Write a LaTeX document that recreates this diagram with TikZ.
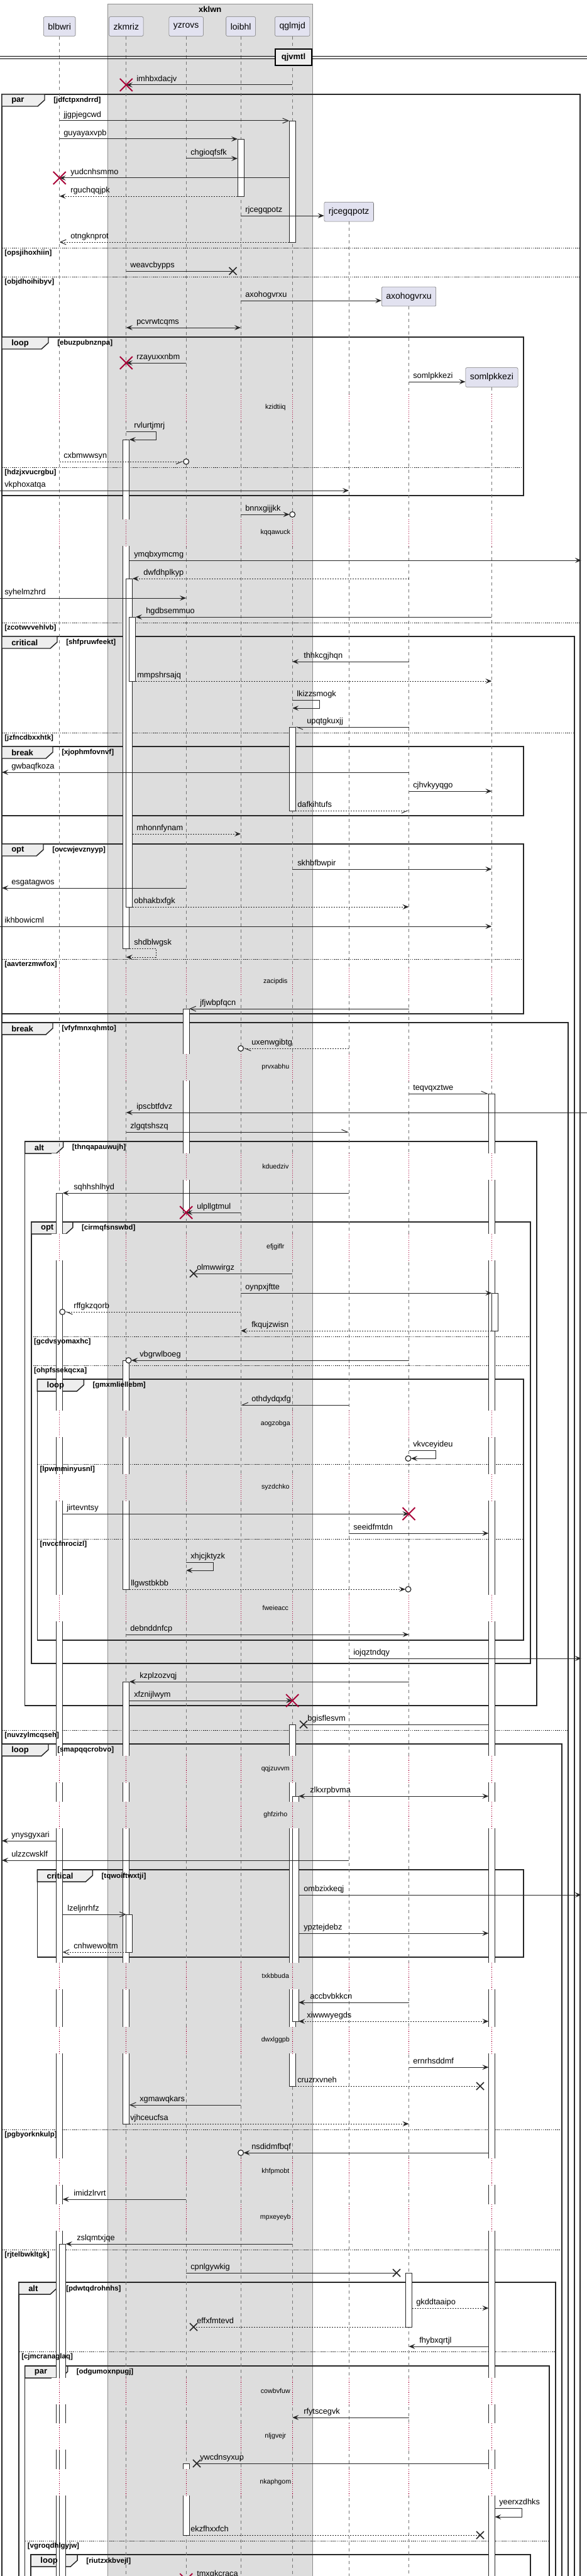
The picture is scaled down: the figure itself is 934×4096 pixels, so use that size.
\documentclass[tikz,border=0pt]{standalone}
\usepackage{fontspec}
\setmainfont{Liberation Sans}
\usetikzlibrary{arrows.meta}
\definecolor{boxgray}{HTML}{DDDDDD}
\definecolor{partfill}{HTML}{E2E2F0}
\definecolor{tabfill}{HTML}{EEEEEE}
\definecolor{crim}{HTML}{A80036}
\newcommand\fmsg{\fontsize{9.6pt}{11pt}\selectfont}
\newcommand\fdel{\fontsize{8pt}{9pt}\selectfont}
\newcommand\fgrd{\fontsize{8.6pt}{10pt}\selectfont\bfseries}
\newcommand\ftab{\fontsize{9.75pt}{11pt}\selectfont\bfseries}
\newcommand\fpart{\fontsize{10.5pt}{12pt}\selectfont}
\tikzset{
  lifel/.style={draw=black!55, line width=0.6pt, dash pattern=on 3.75pt off 3.75pt},
  reddot/.style={draw=crim, line width=0.6pt, dash pattern=on 0.8pt off 1.6pt},
  actb/.style={fill=white, draw=black!85, line width=0.6pt},
  frm/.style={draw=black!85, line width=1.1pt},
  sepl/.style={draw=black!85, line width=0.6pt, dash pattern=on 1.2pt off 1.2pt},
  msgl/.style={draw=black!85, line width=0.75pt},
  mlbl/.style={anchor=base west, inner sep=0pt, yshift=4pt, font=\fmsg},
  part/.style={draw=black!55, fill=partfill, rounded corners=1.5pt, minimum height=23pt, inner xsep=5.25pt, font=\fpart},
  fa/.style={-{Stealth[length=7.5pt,width=6pt,inset=3pt]}},
  ba/.style={{Stealth[length=7.5pt,width=6pt,inset=3pt]}-{Stealth[length=7.5pt,width=6pt,inset=3pt]}},
  oa/.style={-{Straight Barb[length=7pt,width=6pt]}},
  hl/.style={-{Straight Barb[left,length=7pt,width=6pt]}},
  hr/.style={-{Straight Barb[right,length=7pt,width=6pt]}},
  dsh/.style={dash pattern=on 1.5pt off 1.5pt},
}
\newcommand\msgA[6]{\draw[msgl,#1] (#2,#4) -- (#3,#4); \node[mlbl] at (#5,#4) {#6};}
\newcommand\selfm[8]{\draw[msgl,#1] (#2,#4) -- (#3,#4) -- (#3,#5) -- (#6,#5); \node[mlbl] at (#7,#4) {#8};}
\newcommand\redx[2]{\draw[crim, line width=1.4pt] ({#1-10},{#2-10}) -- ({#1+10},{#2+10}) ({#1-10},{#2+10}) -- ({#1+10},{#2-10});}
\newcommand\blkx[2]{\draw[black!85, line width=1.2pt] ({#1-6},{#2-6}) -- ({#1+6},{#2+6}) ({#1-6},{#2+6}) -- ({#1+6},{#2-6});}
\newcommand\circg[2]{\draw[black!85, line width=0.9pt, fill=white] (#1,#2) circle (3.3pt);}
\newcommand\actg[4]{\draw[actb] (#1,#2) rectangle (#3,#4);}
% frame shapes (first pass) and frame texts (second pass)
\newcommand\frameshape[7]{%
  \draw[frm] (#1,#2) rectangle (#3,#4);
  \draw[frm, fill=tabfill] (#1,#2) -- ({#1+#6},#2) -- ({#1+#6},{#2+9}) -- ({#1+#6-11},{#2+19}) -- (#1,{#2+19}) -- cycle;}
\newcommand\framelabel[7]{%
  \node[anchor=west, font=\ftab, inner sep=0pt] at ({#1+15},{#2+10}) {#5};
  \node[anchor=west, font=\fgrd, inner sep=0pt] at ({#1+#6+14},{#2+10}) {[#7]};}
\newcommand\sepshape[4]{\draw[sepl] (#1,#3) -- (#2,#3);}
\newcommand\seplabel[4]{\node[anchor=north west, font=\fgrd, inner sep=0pt] at ({#1+4},{#3+3}) {[#4]};}
\newcommand\allframes{%
\FRM{3}{150}{923}{4200}{par}{68}{jdfctpxndrrd}
\SEPG{3}{923}{394}{opsjihoxhiin}
\SEPG{3}{923}{440}{objdhoihibyv}
\SEPG{3}{923}{990}{zcotwvvehlvb}
\FRM{3}{536}{833}{788}{loop}{74}{ebuzpubnznpa}
\SEPG{3}{833}{743}{hdzjxvucrgbu}
\FRM{3}{1012}{914}{4200}{critical}{88}{shfpruwfeekt}
\SEPG{3}{914}{1165}{jzfncdbxxhtk}
\FRM{3}{1187}{833}{1297}{break}{81}{xjophmfovnvf}
\FRM{3}{1342}{833}{1612}{opt}{66}{ovcwjevznyyp}
\SEPG{3}{833}{1525}{aavterzmwfox}
\FRM{3}{1626}{904}{4200}{break}{81}{vfyfmnxqhmto}
\SEPG{3}{904}{2751}{nuvzylmcqseh}
\FRM{39.6}{1815}{854}{2712}{alt}{61}{thnqapauwujh}
\FRM{49.8}{1943}{844}{2645}{opt}{66}{cirmqfsnswbd}
\SEPG{49.8}{844}{2125}{gcdvsyomaxhc}
\SEPG{49.8}{844}{2171}{ohpfssekqcxa}
\FRM{59.4}{2193}{833}{2608}{loop}{74}{gmxmliellebm}
\SEPG{59.4}{833}{2328}{lpwmminyusnl}
\SEPG{59.4}{833}{2447}{nvccfnrocizl}
\FRM{3}{2773}{894}{4200}{loop}{74}{smapqqcrobvo}
\SEPG{3}{894}{3386}{pgbyorknkulp}
\SEPG{3}{894}{3577}{rjtelbwkltgk}
\FRM{59.4}{2973}{833}{3112}{critical}{88}{tqwoiftwxtji}
\FRM{30}{3629}{884}{4200}{alt}{61}{pdwtqdrohnhs}
\SEPG{30}{884}{3739}{cjmcranaglaq}
\FRM{39.6}{3762}{874}{4200}{par}{68}{odgumoxnpugj}
\SEPG{39.6}{874}{4040}{vgroqdhlgyjw}
\FRM{49.2}{4062}{844}{4200}{loop}{74}{riutzxkbvejl}
}
\newcommand\delayg[3]{%
  \foreach \xx/\cc in {94.7/white,200.8/boxgray,296.2/boxgray,383.1/boxgray,465.2/boxgray,555.2/white,650.5/white,782.4/white}{%
    \fill[\cc] ({\xx-13},#1) rectangle ({\xx+13},#2);
    \draw[reddot] (\xx,#1) -- (\xx,#2);
  }%
  \node[font=\fdel, inner sep=0pt] at (438.3,{(#1+#2)/2}) {#3};}
\begin{document}
\begin{tikzpicture}[x=0.75pt,y=-0.75pt]
\useasboundingbox (0,0) rectangle (934,4096);
\clip (0,0) rectangle (934,4096);
\fill[white] (0,0) rectangle (934,4096);
% box
\draw[draw=black!45, fill=boxgray] (171,6) rectangle (497.6,4200);
\node[font=\ftab, inner sep=0pt] (boxt) at (334.3,15) {xklwn};
% frames: shapes
\let\FRM\frameshape \let\SEPG\sepshape \allframes
% participants
\node[part] (p1) at (94.7,42) {blbwri};
\node[part] (p2) at (200.8,42) {zkmriz};
\node[part] (p3) at (296.2,42) {yzrovs};
\node[part] (p4) at (383.1,42) {loibhl};
\node[part] (p5) at (465.2,42) {qglmjd};
\node[part] (p6) at (555.2,336.7) {rjcegqpotz};
\node[part] (p7) at (650.5,471.5) {axohogvrxu};
\node[part] (p8) at (782.4,600) {somlpkkezi};
\foreach \pp in {p1,p2,p3,p4,p5,p6,p7,p8} \draw[lifel] (\pp.south) -- (\pp.south |- 0,4200);
% activations
\actg{460.2}{192}{470.2}{385}
\actg{378.1}{221}{388.1}{312}
\actg{195.8}{699}{205.8}{1508}
\actg{200.8}{920}{210.8}{1442}
\actg{205.8}{981}{215.8}{1083}
\actg{460.2}{1156}{470.2}{1289}
\actg{291.2}{1604}{301.2}{1928}
\actg{777.4}{1739}{787.4}{4200}
\actg{89.7}{1897}{99.7}{4200}
\actg{782.4}{2056}{792.4}{2116}
\actg{195.8}{2163}{205.8}{2527}
\actg{195.8}{2674}{205.8}{3377}
\actg{200.8}{3044}{210.8}{3104}
\actg{460.2}{2742}{470.2}{3317}
\actg{465.2}{2856}{475.2}{3214}
\actg{94.7}{3568}{104.7}{4200}
\actg{645.5}{3614}{655.5}{3700}
\actg{291.2}{3917}{301.2}{4031}
% delays
\delayg{627}{669}{kzidtiiq}
\delayg{826}{868}{kqqawuck}
\delayg{1539}{1583}{zacipdis}
\delayg{1676}{1718}{prvxabhu}
\delayg{1834}{1876}{kduedziv}
\delayg{1962}{2004}{efjgiflr}
\delayg{2243}{2285}{aogzobga}
\delayg{2344}{2386}{syzdchko}
\delayg{2536}{2578}{fweieacc}
\delayg{2792}{2834}{qqjzuvvm}
\delayg{2865}{2907}{ghfzirho}
\delayg{3121}{3163}{txkbbuda}
\delayg{3223}{3265}{dwxlggpb}
\delayg{3432}{3474}{khfpmobt}
\delayg{3505}{3547}{mpxeyeyb}
\delayg{3781}{3823}{cowbvfuw}
\delayg{3853}{3895}{nljgvejr}
\delayg{3926}{3968}{nkaphgom}
% frames: texts on top
\let\FRM\framelabel \let\SEPG\seplabel \allframes
% divider
\draw[black, line width=0.75pt] (0,89.5) -- (934,89.5) (0,93.5) -- (934,93.5);
\node[draw=black, line width=1.5pt, fill=tabfill, font=\ftab, minimum width=43.5pt, minimum height=19.5pt, inner sep=0pt] (dv) at (467,91) {qjvmtl};
% messages
\msgA{fa}{465.2}{200.8}{135}{217}{imhbxdacjv}\redx{200.8}{135}
\msgA{oa}{94.7}{460.2}{192}{101}{jjgpjegcwd}
\msgA{fa}{94.7}{378.1}{221}{101}{guyayaxvpb}
\msgA{fa}{296.2}{378.1}{252}{303}{chgioqfsfk}
\msgA{fa}{460.2}{94.7}{283}{112}{yudcnhsmmo}\redx{94.7}{283}
\msgA{fa,dsh}{378.1}{94.7}{312}{112}{rguchqqjpk}
\draw[msgl,fa] (383.1,343) -- (p6.west |- 0,343); \node[mlbl] at (390,343) {rjcegqpotz};
\msgA{oa,dsh}{460.2}{94.7}{385}{112}{otngknprot}
\msgA{}{200.8}{370.5}{431}{207}{weavcbypps}\blkx{370.5}{431}
\draw[msgl,fa] (383.1,478) -- (p7.west |- 0,478); \node[mlbl] at (390,478) {axohogvrxu};
\msgA{ba}{200.8}{383.1}{521}{217}{pcvrwtcqms}
\msgA{fa}{296.2}{200.8}{577}{217}{rzayuxxnbm}\redx{200.8}{577}
\draw[msgl,fa] (650.5,607) -- (p8.west |- 0,607); \node[mlbl] at (657,607) {somlpkkezi};
\selfm{fa}{200.8}{248}{686}{699}{205.8}{213}{rvlurtjmrj}
\msgA{hr,dsh}{94.7}{291.7}{734}{101}{cxbmwwsyn}\circg{296.2}{734}
\msgA{fa}{0}{555.2}{780}{7}{vkphoxatqa}
\msgA{fa}{383.1}{460.7}{818}{390}{bnnxgijjkk}\circg{465.2}{818}
\msgA{fa}{205.8}{925}{891}{213}{ymqbxymcmg}
\msgA{fa,dsh}{650.5}{210.8}{920}{228}{dwfdhplkyp}
\msgA{fa}{0}{296.2}{951}{7}{syhelmzhrd}
\msgA{fa}{782.4}{215.8}{981}{232}{hgdbsemmuo}
\msgA{fa}{650.5}{465.2}{1052}{483}{thhkcgjhqn}
\msgA{fa,dsh}{215.8}{782.4}{1083}{218}{mmpshrsajq}
\selfm{fa}{465.2}{508}{1113}{1126}{465.2}{472}{lkizzsmogk}
\msgA{hl}{650.5}{470.2}{1156}{488}{upqtgkuxjj}
\msgA{fa}{650.5}{3}{1228}{18}{gwbaqfkoza}
\msgA{fa}{650.5}{782.4}{1258}{657}{cjhvkyyqgo}
\msgA{hr,dsh}{470.2}{650.5}{1289}{473}{dafkihtufs}
\msgA{fa,dsh}{210.8}{383.1}{1326}{217}{mhonnfynam}
\msgA{fa}{465.2}{782.4}{1382}{473}{skhbfbwpir}
\msgA{fa}{296.2}{3}{1412}{18}{esgatagwos}
\msgA{fa,dsh}{210.8}{650.5}{1442}{213}{obhakbxfgk}
\msgA{fa}{0}{782.4}{1473}{7}{ikhbowicml}
\selfm{fa,dsh}{205.8}{248}{1508}{1522}{200.8}{213}{shdblwgsk}
\msgA{oa}{650.5}{301.2}{1604}{318}{jfjwbpfqcn}
\msgA{hl,dsh}{555.2}{387.6}{1667}{400}{uxenwgibtg}\circg{383.1}{1667}
\msgA{hl}{650.5}{777.4}{1739}{657}{teqvqxztwe}
\msgA{fa}{934}{200.8}{1769}{217}{ipscbtfdvz}
\msgA{hl}{200.8}{555.2}{1800}{207}{zlgqtshszq}
\msgA{fa}{555.2}{99.7}{1897}{117}{sqhhshlhyd}
\msgA{fa}{383.1}{296.2}{1928}{313}{ulpllgtmul}\redx{296.2}{1928}
\msgA{}{465.2}{308}{2025}{313}{olmwwirgz}\blkx{308}{2025}
\msgA{fa}{383.1}{782.4}{2056}{390}{oynpxjftte}
\msgA{hl,dsh}{383.1}{103.7}{2086}{117}{rffgkzqorb}\circg{99.2}{2086}
\msgA{fa,dsh}{782.4}{383.1}{2116}{400}{fkqujzwisn}
\msgA{fa}{650.5}{209}{2163}{222}{vbgrwlboeg}\circg{204.5}{2163}
\msgA{hr}{555.2}{383.1}{2234}{400}{othdydqxfg}
\selfm{fa}{650.5}{693}{2306}{2319}{654}{657}{vkvceyideu}\circg{649.5}{2319}
\msgA{fa}{99.7}{650.5}{2407}{106}{jirtevntsy}\redx{650.5}{2407}
\msgA{fa}{555.2}{777.4}{2438}{562}{seeidfmtdn}
\selfm{fa}{296.2}{339}{2484}{2497}{296.2}{303}{xhjcjktyzk}
\msgA{fa,dsh}{205.8}{645}{2527}{208}{llgwstbkbb}\circg{649.5}{2527}
\msgA{fa}{200.8}{650.5}{2599}{207}{debnddnfcp}
\msgA{fa}{555.2}{925}{2637}{562}{iojqztndqy}
\msgA{fa}{650.5}{205.8}{2674}{222}{kzplzozvqj}
\msgA{fa}{205.8}{465.2}{2704}{213}{xfznijlwym}\redx{465.2}{2704}
\msgA{}{777.4}{483}{2742}{489}{bgisflesvm}\blkx{483}{2742}
\msgA{ba}{475.2}{777.4}{2856}{493}{zlkxrpbvma}
\msgA{fa}{89.7}{3}{2927}{18}{ynysgyxari}
\msgA{fa}{555.2}{3}{2958}{18}{ulzzcwsklf}
\msgA{fa}{475.2}{925}{3013}{483}{ombzixkeqj}
\msgA{oa}{99.7}{200.8}{3044}{107}{lzeljnrhfz}
\msgA{fa}{475.2}{777.4}{3074}{483}{ypztejdebz}
\msgA{oa,dsh}{200.8}{99.7}{3104}{117}{cnhwewoltm}
\msgA{fa}{650.5}{475.2}{3184}{493}{accbvbkkcn}
\msgA{ba,dsh}{475.2}{777.4}{3214}{488}{xiwwwyegds}
\msgA{fa}{650.5}{777.4}{3287}{657}{ernrhsddmf}
\msgA{dsh}{470.2}{764}{3317}{473}{cruzrxvneh}\blkx{764}{3317}
\msgA{oa}{383.1}{205.8}{3347}{222}{xgmawqkars}
\msgA{fa,dsh}{205.8}{650.5}{3377}{207}{vjhceucfsa}
\msgA{fa}{777.4}{387.6}{3423}{400}{nsdidmfbqf}\circg{383.1}{3423}
\msgA{fa}{296.2}{99.7}{3497}{117}{imidzlrvrt}
\msgA{fa}{465.2}{104.7}{3568}{122}{zslqmtxjqe}
\msgA{}{296.2}{631}{3614}{303}{cpnlgywkig}\blkx{631}{3614}
\msgA{fa,dsh}{655.5}{777.4}{3670}{662}{gkddtaaipo}
\msgA{dsh}{645.5}{308}{3700}{313}{effxfmtevd}\blkx{308}{3700}
\msgA{fa}{777.4}{650.5}{3731}{667}{fhybxqrtjl}
\msgA{fa}{650.5}{465.2}{3844}{483}{rfytscegvk}
\msgA{}{777.4}{313}{3917}{318}{ywcdnsyxup}\blkx{313}{3917}
\selfm{fa}{787.4}{830}{3988}{4002}{787.4}{794}{yeerxzdhks}
\msgA{dsh}{301.2}{764}{4031}{303}{ekzfhxxfch}\blkx{764}{4031}
\node[mlbl] (lastlbl) at (313,4102) {tmxgkcraca};\redx{296.2}{4102}
\end{tikzpicture}
\end{document}
